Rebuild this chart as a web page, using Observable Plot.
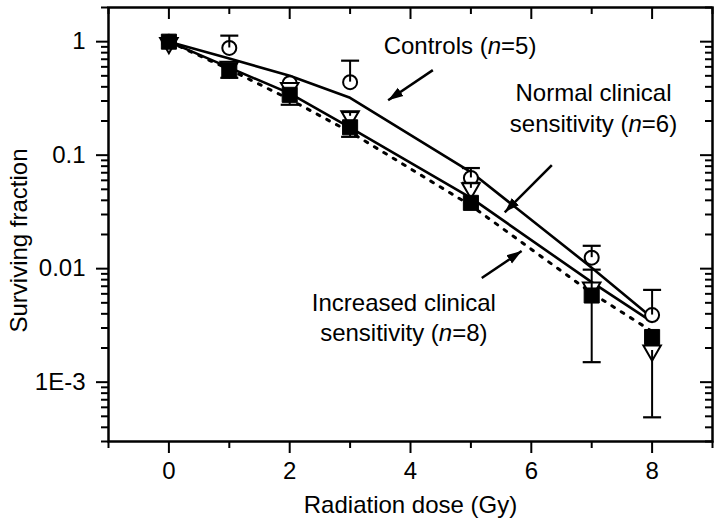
<!DOCTYPE html>
<html><head><meta charset="utf-8">
<script src="https://cdn.jsdelivr.net/npm/d3@7"></script>
<script src="https://cdn.jsdelivr.net/npm/@observablehq/plot@0.6"></script>
<style>body{margin:0;background:#fff} svg{display:block}</style>
</head><body><div id="chart"></div>
<script>
// ---- data ----
const doses = [0, 1, 2, 3, 5, 7, 8];
const controlsSF  = [1.0, 0.88, 0.43, 0.44, 0.063, 0.0125, 0.0039];
const normalSF    = [0.97, 0.60, 0.39, 0.22, 0.051, 0.0068, 0.0019];
const increasedSF = [1.0, 0.56, 0.34, 0.176, 0.038, 0.0058, 0.0025];
const controlsFit  = [1.0, 0.71, 0.50, 0.32, 0.071, 0.0102, 0.0037];
const normalFit    = [1.0, 0.59, 0.35, 0.175, 0.042, 0.0076, 0.0034];
const increasedFit = [1.0, 0.57, 0.31, 0.16, 0.036, 0.0061, 0.0028];
const controlsHi  = [null, 1.13, null, 0.68, 0.077, 0.0159, 0.0065];
const normalHi    = [null, null, null, 0.24, 0.057, null, null];
const normalLo    = [null, null, null, null, null, null, 0.00049];
const increasedHi = [null, null, null, null, null, 0.0098, null];
const increasedLo = [null, 0.48, 0.278, 0.145, null, 0.0015, null];

const xMajor = [0, 2, 4, 6, 8];
const xMinor = [-1, 1, 3, 5, 7, 9];
const yMajor = [1, 0.1, 0.01, 0.001];
const yMajorLabels = ["1", "0.1", "0.01", "1E-3"];

const annotText = ["Controls (n=5)", "Normal clinical", "sensitivity (n=6)", "Increased clinical", "sensitivity (n=8)"];
const annotX = [4.82, 7.03, 7.03, 3.89, 3.89];
const annotY = [0.913, 0.352, 0.1876, 0.00497, 0.0027];

const arrowX1 = [4.37, 6.34, 5.18];
const arrowY1 = [0.561, 0.0817, 0.00828];
const arrowX2 = [3.63, 5.56, 5.84];
const arrowY2 = [0.305, 0.0314, 0.0143];

const xTitle = "Radiation dose (Gy)";
const yTitle = "Surviving fraction";

// ---- tables ----
const rows = (ys) => doses.map((d, i) => ({dose: d, sf: ys[i]}));
function errRows(sf, bound) {
  return doses.map((d, i) => ({dose: d, from: sf[i], to: bound[i]})).filter(r => r.to != null);
}
const errs = [
  ...errRows(controlsSF, controlsHi),
  ...errRows(normalSF, normalHi),
  ...errRows(normalSF, normalLo),
  ...errRows(increasedSF, increasedHi),
  ...errRows(increasedSF, increasedLo)
];
const annots = annotText.map((t, i) => ({t, x: annotX[i], y: annotY[i]}));
const arrows = arrowX1.map((x, i) => ({x1: x, y1: arrowY1[i], x2: arrowX2[i], y2: arrowY2[i]}));

const yMinor = [];
for (let e = -4; e <= 0; e++) for (let m = 2; m <= 9; m++) {
  const v = m * Math.pow(10, e);
  if (v >= 3e-4 - 1e-12 && v <= 2 + 1e-12) yMinor.push(v);
}

const W = 719, H = 525;
const M = {top: 7, right: 7, bottom: 84, left: 108};
const innerW = W - M.left - M.right;
const innerH = H - M.top - M.bottom;

const capSymbol = {draw(ctx, size) { const r = Math.sqrt(size / Math.PI); ctx.moveTo(-r, 0); ctx.lineTo(r, 0); }};
const FS = 24;

const plot = Plot.plot({
  width: W, height: H,
  marginTop: M.top, marginRight: M.right, marginBottom: M.bottom, marginLeft: M.left,
  style: {fontFamily: "'Liberation Sans', Arial, sans-serif", fontSize: FS + "px", color: "black", background: "white"},
  x: {domain: [-1, 9]},
  y: {type: "log", domain: [3e-4, 2]},
  marks: [
    // axes
    Plot.axisX(xMajor, {tickSize: 12, tickPadding: 8, strokeWidth: 2, fontSize: FS, tickFormat: d => String(d), label: null}),
    Plot.axisX(xMinor, {tickSize: 7, strokeWidth: 2, tickFormat: () => "", label: null}),
    Plot.axisY(yMajor, {tickSize: 12, tickPadding: 11, strokeWidth: 2, fontSize: FS, tickFormat: d => yMajorLabels[yMajor.indexOf(d)], label: null}),
    Plot.axisY(yMinor, {tickSize: 7, strokeWidth: 2, tickFormat: () => "", label: null}),
    // mirrored inner ticks
    Plot.tickX(xMajor, {x: d => d, insetBottom: innerH - 12, strokeWidth: 2}),
    Plot.tickX(xMinor, {x: d => d, insetBottom: innerH - 7, strokeWidth: 2}),
    Plot.tickY(yMajor, {y: d => d, insetLeft: innerW - 12, strokeWidth: 2}),
    Plot.tickY(yMinor, {y: d => d, insetLeft: innerW - 7, strokeWidth: 2}),
    Plot.frame({strokeWidth: 2.5}),
    // fit lines
    Plot.line(rows(controlsFit), {x: "dose", y: "sf", stroke: "black", strokeWidth: 2.6}),
    Plot.line(rows(normalFit), {x: "dose", y: "sf", stroke: "black", strokeWidth: 2.6}),
    Plot.line(rows(increasedFit), {x: "dose", y: "sf", stroke: "black", strokeWidth: 3, strokeDasharray: "3,8"}),
    // points
    Plot.dot(rows(controlsSF), {x: "dose", y: "sf", r: 7, fill: "white", stroke: "black", strokeWidth: 2}),
    Plot.dot(rows(normalSF), {x: "dose", y: "sf", symbol: "triangle", rotate: 180, r: 6.5, fill: "white", stroke: "black", strokeWidth: 2}),
    Plot.dot(rows(increasedSF), {x: "dose", y: "sf", symbol: "square", r: 8.5, fill: "black", stroke: "black", strokeWidth: 1}),
    // error bars
    Plot.ruleX(errs, {x: "dose", y1: "from", y2: "to", stroke: "black", strokeWidth: 2}),
    Plot.dot(errs, {x: "dose", y: "to", symbol: capSymbol, r: 9, stroke: "black", strokeWidth: 2.2}),
    // arrows
    Plot.link(arrows, {x1: "x1", y1: "y1", x2: "x2", y2: "y2", stroke: "black", strokeWidth: 2.5}),
    // annotations
    Plot.text(annots, {x: "x", y: "y", text: "t", textAnchor: "middle", fontSize: FS, fill: "black"}),
    // axis titles
    Plot.text([xTitle], {frameAnchor: "bottom", dy: 64, lineAnchor: "middle", textAnchor: "middle", text: d => d, fontSize: FS, fill: "black"}),
    Plot.text([yTitle], {frameAnchor: "left", dx: -89, dy: 16, rotate: -90, textAnchor: "middle", lineAnchor: "middle", text: d => d, fontSize: FS, fill: "black"})
  ]
});

const NS = "http://www.w3.org/2000/svg";
// italic "n" in the annotations
plot.querySelectorAll("text").forEach(el => {
  const s = el.textContent;
  const k = s.indexOf("(n=");
  if (k < 0 || el.children.length) return;
  el.textContent = "";
  el.appendChild(document.createTextNode(s.slice(0, k + 1)));
  const ts = document.createElementNS(NS, "tspan");
  ts.setAttribute("font-style", "italic");
  ts.textContent = "n";
  el.appendChild(ts);
  el.appendChild(document.createTextNode(s.slice(k + 2)));
});
// filled arrowheads on the annotation links
const defs = document.createElementNS(NS, "defs");
const marker = document.createElementNS(NS, "marker");
marker.setAttribute("id", "ahead");
marker.setAttribute("viewBox", "0 -6 16 12");
marker.setAttribute("refX", "15");
marker.setAttribute("refY", "0");
marker.setAttribute("markerWidth", "16");
marker.setAttribute("markerHeight", "12");
marker.setAttribute("markerUnits", "userSpaceOnUse");
marker.setAttribute("orient", "auto");
const mp = document.createElementNS(NS, "path");
mp.setAttribute("d", "M0,-5L15,0L0,5Z");
mp.setAttribute("fill", "black");
marker.appendChild(mp);
defs.appendChild(marker);
plot.insertBefore(defs, plot.firstChild);
plot.querySelectorAll('g[aria-label="link"] path').forEach(p => p.setAttribute("marker-end", "url(#ahead)"));

document.getElementById("chart").appendChild(plot);
</script>
</body></html>
